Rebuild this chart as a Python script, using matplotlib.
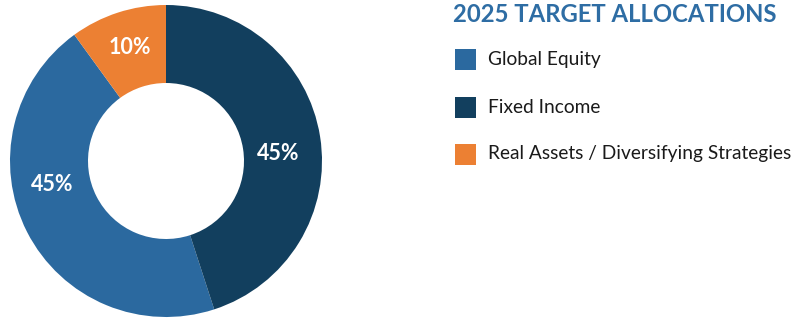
import matplotlib
matplotlib.use('Agg')
import matplotlib.pyplot as plt
from matplotlib.patches import Rectangle

# data
categories = ['Global Equity', 'Fixed Income', 'Real Assets / Diversifying Strategies']
values = [45, 45, 10]
colors = ['#2B699F', '#123F5E', '#EC8033']
title = '2025 TARGET ALLOCATIONS'

W, H = 811, 323
fig = plt.figure(figsize=(W / 100, H / 100), dpi=100)

# donut, centre (166,161) radius 156 px
cx, cy, r = 166, 161, 156
ax = fig.add_axes([(cx - r) / W, (H - cy - r) / H, 2 * r / W, 2 * r / H])
wedges, texts, autotexts = ax.pie(values, colors=colors, startangle=126, counterclock=True,
                                  radius=1, wedgeprops=dict(width=0.5, linewidth=0),
                                  autopct='%d%%', pctdistance=0.74,
                                  textprops=dict(color='white', fontsize=15.5, family='Lato',
                                                 fontweight='bold'))
# labels in the original sit closer to the horizontal than the wedge middle
label_pos = [(-0.73, -0.15), (0.72, 0.05), (-0.23, 0.73)]
for t, p in zip(autotexts, label_pos):
    t.set_position(p)
ax.set_xlim(-1, 1)
ax.set_ylim(-1, 1)
ax.set_aspect('equal')
ax.axis('off')

# title + legend
fig.text(453 / W, 1 - 15 / H, title, color='#2E6DA4', fontsize=17.2, family='Lato',
         fontweight='bold', va='center', ha='left')
row_y = [59, 107, 154]
for lab, col, y in zip(categories, colors, row_y):
    fig.patches.append(Rectangle((455 / W, 1 - (y + 10.5) / H), 21 / W, 21 / H,
                                 transform=fig.transFigure, facecolor=col, edgecolor='none'))
    fig.text(488 / W, 1 - y / H, lab, color='#1a1a1a', fontsize=13.8, family='Lato',
             va='center', ha='left')

fig.savefig('out.png', dpi=100)
